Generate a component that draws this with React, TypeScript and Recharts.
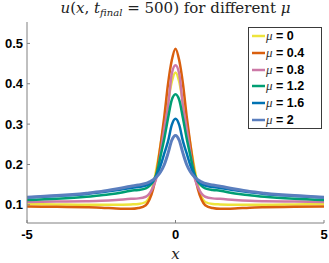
import React from 'react';
import { LineChart, Line, XAxis, YAxis, Legend, Label } from 'recharts';

const xValues = [-5, -4, -3, -2.5, -2, -1.5, -1.25, -1, -0.875, -0.75, -0.625, -0.5, -0.375, -0.25, -0.125, 0,
  0.125, 0.25, 0.375, 0.5, 0.625, 0.75, 0.875, 1, 1.25, 1.5, 2, 2.5, 3, 4, 5];

const mu0 = [0.102, 0.101, 0.100, 0.100, 0.100, 0.101, 0.102, 0.107, 0.120, 0.150, 0.196, 0.250, 0.305, 0.355, 0.405, 0.428,
  0.405, 0.355, 0.305, 0.250, 0.196, 0.150, 0.120, 0.107, 0.102, 0.101, 0.100, 0.100, 0.100, 0.101, 0.102];
const mu04 = [0.096, 0.095, 0.094, 0.093, 0.091, 0.090, 0.092, 0.099, 0.113, 0.140, 0.185, 0.250, 0.320, 0.400, 0.458, 0.487,
  0.458, 0.400, 0.320, 0.250, 0.185, 0.140, 0.113, 0.099, 0.092, 0.090, 0.091, 0.093, 0.094, 0.095, 0.096];
const mu08 = [0.107, 0.108, 0.109, 0.110, 0.112, 0.115, 0.116, 0.120, 0.128, 0.145, 0.172, 0.230, 0.290, 0.345, 0.425, 0.446,
  0.425, 0.345, 0.290, 0.230, 0.172, 0.145, 0.128, 0.120, 0.116, 0.115, 0.112, 0.110, 0.109, 0.108, 0.107];
const mu12 = [0.112, 0.115, 0.120, 0.124, 0.128, 0.135, 0.137, 0.141, 0.147, 0.158, 0.180, 0.222, 0.265, 0.315, 0.360, 0.374,
  0.360, 0.315, 0.265, 0.222, 0.180, 0.158, 0.147, 0.141, 0.137, 0.135, 0.128, 0.124, 0.120, 0.115, 0.112];
const mu16 = [0.118, 0.122, 0.127, 0.131, 0.136, 0.142, 0.144, 0.148, 0.152, 0.160, 0.175, 0.198, 0.228, 0.258, 0.298, 0.313,
  0.298, 0.258, 0.228, 0.198, 0.175, 0.160, 0.152, 0.148, 0.144, 0.142, 0.136, 0.131, 0.127, 0.122, 0.118];
const mu2 = [0.119, 0.123, 0.129, 0.133, 0.139, 0.146, 0.149, 0.153, 0.157, 0.162, 0.170, 0.182, 0.200, 0.228, 0.260, 0.272,
  0.260, 0.228, 0.200, 0.182, 0.170, 0.162, 0.157, 0.153, 0.149, 0.146, 0.139, 0.133, 0.129, 0.123, 0.119];

const muLabels = ['0', '0.4', '0.8', '1.2', '1.6', '2'];
const seriesValues = [mu0, mu04, mu08, mu12, mu16, mu2];
const colors = ['#EDE43C', '#D95F0E', '#CC79A7', '#009E73', '#0072B2', '#5A7EBE'];
const widths = [2.5, 2.5, 2.5, 2.5, 2.5, 3];

const xTicks = [-5, 0, 5];
const yTicks = [0.1, 0.2, 0.3, 0.4, 0.5];

const data = xValues.map((x, i) => {
  const row: Record<string, number> = { x };
  seriesValues.forEach((s, k) => {
    row['s' + k] = s[i];
  });
  return row;
});

const tickStyle = { fill: '#000', fontSize: 13, fontWeight: 'bold', fontFamily: 'Liberation Sans' };
const axisColor = '#808080';

const renderLegend = (props: any) => {
  const payload = props.payload || [];
  return (
    <div
      style={{
        border: '1px solid #3a3a3a',
        background: '#fff',
        width: 74,
        height: 102,
        boxSizing: 'border-box',
      }}
    >
      {payload.map((entry: any, i: number) => (
        <div key={i} style={{ display: 'flex', alignItems: 'center', height: 16.7, marginLeft: 3 }}>
          <svg width={13} height={4} style={{ display: 'block' }}>
            <line x1={0} y1={2} x2={13} y2={2} stroke={entry.color} strokeWidth={2.5} />
          </svg>
          <span style={{ fontFamily: 'Liberation Serif', fontStyle: 'italic', fontSize: 13, marginLeft: 1, color: '#333' }}>μ</span>
          <span style={{ fontFamily: 'Liberation Sans', fontWeight: 'bold', fontSize: 12.5, whiteSpace: 'pre', color: '#000' }}>
            {' = ' + entry.value}
          </span>
        </div>
      ))}
    </div>
  );
};

export default function App() {
  return (
    <div style={{ position: 'absolute', left: 0, top: 0, width: 329, height: 263, background: '#fff' }}>
      <div
        style={{
          position: 'absolute',
          left: 27,
          top: 0,
          width: 297,
          textAlign: 'center',
          fontFamily: 'DejaVu Serif',
          fontSize: 15,
          lineHeight: '17px',
          color: '#222',
          whiteSpace: 'nowrap',
        }}
      >
        <i>u</i>(<i>x</i>, <i>t</i>
        <sub style={{ fontSize: 10, verticalAlign: '-3px' }}>
          <i>final</i>
        </sub>{' '}
        = 500) for different <i>μ</i>
      </div>
      <LineChart width={329} height={263} data={data} margin={{ top: 22, right: 5, left: 0, bottom: 0 }}>
        <XAxis
          dataKey="x"
          type="number"
          domain={[-5, 5]}
          ticks={xTicks}
          allowDataOverflow
          height={40}
          tickSize={-3}
          tickMargin={10}
          tick={tickStyle}
          axisLine={{ stroke: axisColor }}
          tickLine={{ stroke: axisColor }}
        >
          <Label
            value="x"
            position="insideBottom"
            offset={4}
            style={{ fontFamily: 'DejaVu Serif', fontStyle: 'italic', fontSize: 15, fill: '#222' }}
          />
        </XAxis>
        <YAxis
          type="number"
          domain={[0.055, 0.553]}
          ticks={yTicks}
          allowDataOverflow
          width={27}
          tickSize={-3}
          tickMargin={7}
          tick={tickStyle}
          axisLine={{ stroke: axisColor }}
          tickLine={{ stroke: axisColor }}
        />
        {seriesValues.map((_, k) => (
          <Line
            key={k}
            type="monotone"
            dataKey={'s' + k}
            name={muLabels[k]}
            stroke={colors[k]}
            strokeWidth={widths[k]}
            dot={false}
            activeDot={false}
            isAnimationActive={false}
          />
        ))}
        <Legend
          layout="vertical"
          align="center"
          verticalAlign="middle"
          wrapperStyle={{ top: 27, left: 248, width: 74, height: 102 }}
          content={renderLegend}
        />
      </LineChart>
    </div>
  );
}
